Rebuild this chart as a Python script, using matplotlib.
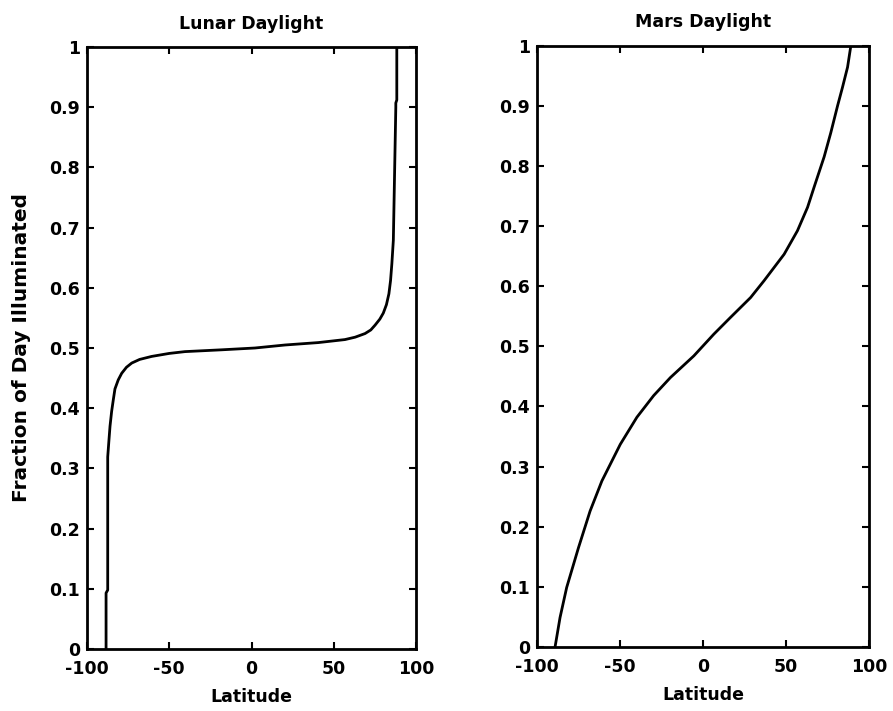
import numpy as np
import matplotlib.pyplot as plt

# values
lunar_lat = [-88.4, -88.4, -87.4, -87.4, -86.7, -86.0, -85.0, -84.0, -83.0, -81.0, -78.9,
             -76.0, -72.8, -68.0, -60.7, -50.0, -40.4, -18.1, 2.1, 20.4, 40.6, 56.8,
             63.0, 69.0, 72.5, 75.1, 78.0, 80.1, 82.0, 83.5, 84.5, 85.3, 86.2, 87.7,
             87.7, 88.3, 88.3]
lunar_frac = [0.0, 0.093, 0.098, 0.319, 0.345, 0.370, 0.395, 0.414, 0.432, 0.447, 0.458,
              0.468, 0.475, 0.481, 0.486, 0.491, 0.494, 0.497, 0.500, 0.505, 0.509, 0.514,
              0.518, 0.524, 0.530, 0.538, 0.548, 0.558, 0.572, 0.590, 0.612, 0.640, 0.679,
              0.900, 0.907, 0.912, 1.0]

mars_lat = [-89.1, -86.1, -82.1, -75.0, -68.0, -60.9, -49.8, -39.8, -29.7, -19.6, -5.5,
            6.5, 16.6, 28.7, 36.8, 48.9, 56.9, 63.0, 67.0, 73.0, 77.0, 81.1, 84.0,
            87.1, 89.1]
mars_frac = [0.0, 0.049, 0.099, 0.165, 0.226, 0.276, 0.337, 0.382, 0.418, 0.448, 0.484,
             0.520, 0.548, 0.581, 0.609, 0.653, 0.692, 0.731, 0.765, 0.815, 0.855, 0.900,
             0.930, 0.964, 1.0]

xticks = [-100, -50, 0, 50, 100]
yticks = np.round(np.arange(0, 1.01, 0.1), 1)
ytick_labels = ['0', '0.1', '0.2', '0.3', '0.4', '0.5', '0.6', '0.7', '0.8', '0.9', '1']

plt.rcParams['font.family'] = 'DejaVu Sans'
plt.rcParams['font.weight'] = 'bold'

fig = plt.figure(figsize=(8.93, 7.11), dpi=100)
ax1 = fig.add_axes([0.0974, 0.0872, 0.3685, 0.8467])
ax2 = fig.add_axes([0.6013, 0.0900, 0.3718, 0.8460])

panels = [(ax1, lunar_lat, lunar_frac, 'Lunar Daylight'),
          (ax2, mars_lat, mars_frac, 'Mars Daylight')]

for ax, lat, frac, title in panels:
    ax.plot(lat, frac, color='black', linewidth=2)
    ax.set_xlim(-100, 100)
    ax.set_ylim(0, 1)
    ax.set_xticks(xticks)
    ax.set_xticklabels([str(t) for t in xticks])
    ax.set_yticks(yticks)
    ax.set_yticklabels(ytick_labels)
    ax.tick_params(direction='in', top=True, right=True, length=5, width=1.5,
                   labelsize=12.5)
    ax.tick_params(axis='x', pad=8)
    ax.tick_params(axis='y', pad=5)
    for s in ax.spines.values():
        s.set_linewidth(2)
    ax.set_title(title, fontsize=12.5, fontweight='bold', pad=13)
    ax.set_xlabel('Latitude', fontsize=12.5, fontweight='bold', labelpad=7)

ax1.set_ylabel('Fraction of Day Illuminated', fontsize=14.5, fontweight='bold', labelpad=13)

plt.savefig('out.png')
